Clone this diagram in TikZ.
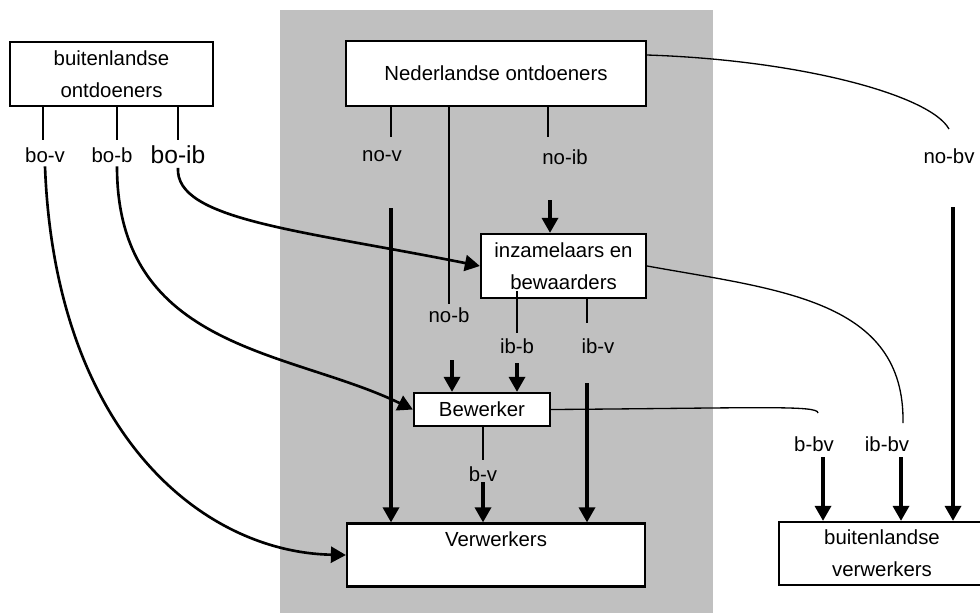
\documentclass[tikz,border=0pt]{standalone}
\usepackage{fontspec}
\setmainfont{Liberation Sans}
\usepackage{tikz}
\usetikzlibrary{arrows.meta}

\definecolor{zone}{RGB}{192,192,192}

\tikzset{
    box/.style={draw, line width=1.3pt, fill=white, align=center, inner sep=0pt,
        font=\fontsize{11.6}{18.2}\selectfont},
    flow/.style={inner sep=2pt, font=\fontsize{11.6}{13.5}\selectfont},
    stub/.style={line width=0.75pt},
    feed/.style={line width=1.9pt, -{Triangle[length=0.3cm, width=0.32cm]}},
    swing/.style={line width=1.5pt, -{Triangle[length=0.3cm, width=0.32cm]}}
}

\begin{document}
\begin{tikzpicture}[x=0.02cm, y=-0.02cm]
                            \useasboundingbox (0,0) rectangle (980,613);
                            \clip (0,0) rectangle (980,613);
                            \fill[zone] (280,10) rectangle (713,613);

                            \node[box, minimum width=4.06cm, minimum height=1.28cm] (bo) at (111.5,74) {buitenlandse\\ontdoeners};
                            \node[box, minimum width=6cm, minimum height=1.3cm] (ned) at (496,73.5) {Nederlandse ontdoeners};
                            \node[box, minimum width=3.3cm, minimum height=1.28cm] (inz) at (563.5,266) {inzamelaars en\\bewaarders};
                            \node[box, minimum width=2.72cm, minimum height=0.66cm] (bew) at (482,409.5) {Bewerker};
                            \node[box, minimum width=5.96cm, minimum height=1.26cm] (verw) at (496,555) {Verwerkers\\~};
                            \node[box, minimum width=4.12cm, minimum height=1.26cm] (bverw) at (882,553.5) {buitenlandse\\verwerkers};

                            \node[flow] (bov) at (45,155) {bo-v};
                            \node[flow] (bob) at (112,155) {bo-b};
                            \node[flow, font=\fontsize{14}{16}\selectfont] (boib) at (178,155) {bo-ib};
                            \node[flow] (nov) at (382,156) {no-v};
                            \node[flow] (noib) at (565,157) {no-ib};
                            \node[flow] (nob) at (449,315) {no-b};
                            \node[flow] (ibb) at (517,346) {ib-b};
                            \node[flow] (ibv) at (598,346) {ib-v};
                            \node[flow] (bv) at (483,474) {b-v};
                            \node[flow] (nobv) at (949,156) {no-bv};
                            \node[flow] (bbv) at (814,444) {b-bv};
                            \node[flow] (ibbv) at (887,444) {ib-bv};

                            \coordinate (bov-t) at (43,140);
                            \coordinate (bob-t) at (117,140);
                            \coordinate (boib-t) at (178,140);
                            \coordinate (nov-t) at (391,137);
                            \coordinate (noib-t) at (548,137);
                            \coordinate (ibb-t) at (517,333);
                            \coordinate (ibv-t) at (587,323);
                            \coordinate (bv-t) at (483,460);

                            \coordinate (nov-a) at (391,208);
                            \coordinate (noib-a) at (550,200);
                            \coordinate (nob-a) at (452,360);
                            \coordinate (ibb-a) at (517,363);
                            \coordinate (ibv-a) at (587,383);
                            \coordinate (bv-a) at (483,482);
                            \coordinate (bbv-a) at (823,457);
                            \coordinate (ibbv-a) at (901,457);
                            \coordinate (nobv-a) at (953,207);

                            \coordinate (nobv-e) at (949,129);
                            \coordinate (ibbv-e) at (903,423);
                            \coordinate (bbv-e) at (818,413);

                            \draw[stub] (bo.south -| bov-t) -- (bov-t);
                            \draw[stub] (bo.south -| bob-t) -- (bob-t);
                            \draw[stub] (bo.south -| boib-t) -- (boib-t);
                            \draw[stub] (ned.south -| nov-t) -- (nov-t);
                            \draw[stub] (ned.south -| noib-t) -- (noib-t);
                            \draw[stub] (ned.south -| nob) -- (nob.north);
                            \draw[stub] ([yshift=0.16cm]inz.south -| ibb-t) -- (ibb-t);
                            \draw[stub] (inz.south -| ibv-t) -- (ibv-t);
                            \draw[stub] (bew.south -| bv-t) -- (bv-t);

                            \draw[stub] ([yshift=0.37cm]ned.east) .. controls (800,60) and (930,95) .. (nobv-e);
                            \draw[stub] (inz.east) .. controls (780,290) and (905,300) .. (ibbv-e);
                            \draw[stub] (bew.east) .. controls (760,408) and (818,405) .. (bbv-e);

                            \draw[feed] (nov-a) -- (nov-a |- verw.north);
                            \draw[feed] (noib-a) -- (noib-a |- inz.north);
                            \draw[feed] (nob-a) -- (nob-a |- bew.north);
                            \draw[feed] (ibb-a) -- (ibb-a |- bew.north);
                            \draw[feed] (ibv-a) -- (ibv-a |- verw.north);
                            \draw[feed] (bv-a) -- (bv-a |- verw.north);
                            \draw[feed] (bbv-a) -- (bbv-a |- bverw.north);
                            \draw[feed] (ibbv-a) -- (ibbv-a |- bverw.north);
                            \draw[feed] (nobv-a) -- (nobv-a |- bverw.north);

                            \draw[swing] (bov.south) .. controls (55,430) and (200,552) .. (verw.west);
                            \draw[swing] (bob-t |- bob.south) .. controls (117,350) and (290,350) .. (bew.west);
                            \draw[swing] (boib.south) .. controls (175,220) and (300,230) .. (inz.west);
                        \end{tikzpicture}
\end{document}
